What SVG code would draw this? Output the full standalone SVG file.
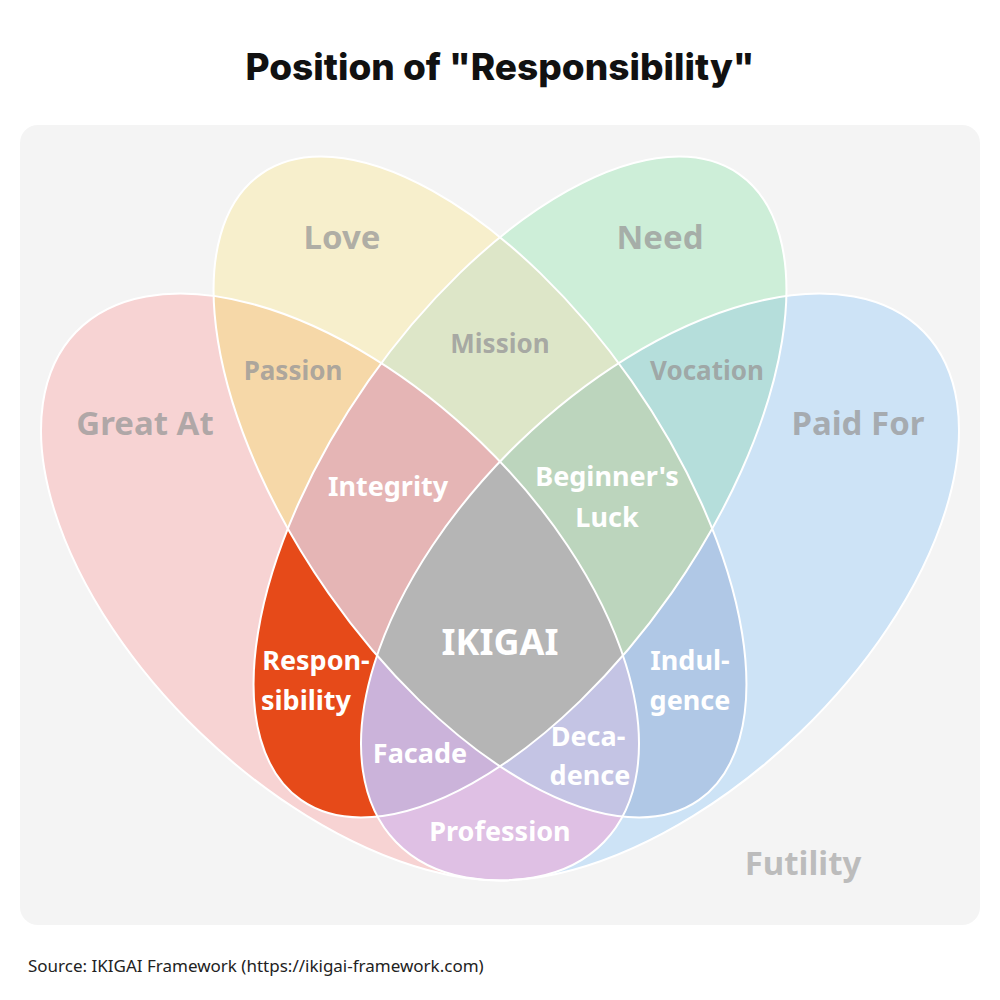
<svg xmlns="http://www.w3.org/2000/svg" width="1000" height="1000" viewBox="0 0 1000 1000">
<style>
text{font-family:"Noto Sans","Open Sans","Liberation Sans",sans-serif;font-weight:bold;text-anchor:middle}
.line{fill:none;stroke:#fff;stroke-width:2}
.big{font-size:33px;fill:#999;fill-opacity:0.75}
.mid{font-size:26px;fill:#999;fill-opacity:0.8}
.w{font-size:27px;fill:#fff}
</style>
<defs>
<ellipse id="eP" cx="340" cy="587" rx="367" ry="202" transform="rotate(44 340 587)"/>
<ellipse id="eY" cx="480" cy="487" rx="382" ry="185" transform="rotate(55 480 487)"/>
<ellipse id="eG" cx="520" cy="487" rx="382" ry="185" transform="rotate(-55 520 487)"/>
<ellipse id="eB" cx="660" cy="587" rx="367" ry="202" transform="rotate(-44 660 587)"/>
<clipPath id="cP"><use href="#eP"/></clipPath>
<clipPath id="cY"><use href="#eY"/></clipPath>
<clipPath id="cG"><use href="#eG"/></clipPath>
<clipPath id="cB"><use href="#eB"/></clipPath>
</defs>
<rect width="1000" height="1000" fill="#fff"/>
<text x="500" y="80" style="font-family:Inter,'Noto Sans',sans-serif;font-weight:800;font-size:37px;fill:#111">Position of "Responsibility"</text>
<rect x="20" y="125" width="960" height="800" rx="18" fill="#f4f4f4"/>
<g id="great-at"><use href="#eP" fill="#f7d3d3"/></g>
<g id="love"><use href="#eY" fill="#f7efcc"/></g>
<g id="need"><use href="#eG" fill="#cdeed8"/></g>
<g id="paid-for"><use href="#eB" fill="#cde3f6"/></g>
<g id="passion" clip-path="url(#cY)"><use href="#eP" fill="#f6d8a8"/></g>
<g id="mission" clip-path="url(#cG)"><use href="#eY" fill="#dde6c8"/></g>
<g id="vocation" clip-path="url(#cB)"><use href="#eG" fill="#b5dedb"/></g>
<g id="responsibility" clip-path="url(#cG)"><use href="#eP" fill="#e64a19"/></g>
<g id="indulgence" clip-path="url(#cB)"><use href="#eY" fill="#b0c8e6"/></g>
<g id="profession" clip-path="url(#cB)"><use href="#eP" fill="#dfc0e4"/></g>
<g id="integrity" clip-path="url(#cY)"><g clip-path="url(#cG)"><use href="#eP" fill="#e5b5b5"/></g></g>
<g id="beginners-luck" clip-path="url(#cG)"><g clip-path="url(#cB)"><use href="#eY" fill="#bcd5bd"/></g></g>
<g id="facade" clip-path="url(#cG)"><g clip-path="url(#cB)"><use href="#eP" fill="#cbb3da"/></g></g>
<g id="decadence" clip-path="url(#cY)"><g clip-path="url(#cB)"><use href="#eP" fill="#c4c4e4"/></g></g>
<g id="ikigai" clip-path="url(#cY)"><g clip-path="url(#cG)"><g clip-path="url(#cB)"><use href="#eP" fill="#b5b5b5"/></g></g></g>
<g id="connectors">
<use href="#eP" class="line"/><use href="#eY" class="line"/><use href="#eG" class="line"/><use href="#eB" class="line"/>
</g>
<g id="labels">
<text class="big" x="145" y="435">Great At</text>
<text class="big" x="342" y="249">Love</text>
<text class="big" x="660" y="249">Need</text>
<text class="big" x="858" y="435">Paid For</text>
<text class="big" x="803" y="875" style="fill:#aaa">Futility</text>
<text class="mid" x="293" y="380">Passion</text>
<text class="mid" x="500" y="353">Mission</text>
<text class="mid" x="707" y="380">Vocation</text>
<text class="w" x="388" y="496">Integrity</text>
<text class="w" x="607" y="486">Beginner's</text>
<text class="w" x="607" y="527">Luck</text>
<text class="w" x="500" y="655" style="font-size:36px">IKIGAI</text>
<text class="w" x="316" y="670">Respon-</text>
<text class="w" x="306" y="710">sibility</text>
<text class="w" x="690" y="670">Indul-</text>
<text class="w" x="690" y="710">gence</text>
<text class="w" x="420" y="763">Facade</text>
<text class="w" x="588" y="746">Deca-</text>
<text class="w" x="590" y="785">dence</text>
<text class="w" x="500" y="841">Profession</text>
</g>
<text x="28" y="972" style="font-size:17px;font-weight:normal;text-anchor:start;fill:#222">Source: IKIGAI Framework (https://ikigai-framework.com)</text>
</svg>
